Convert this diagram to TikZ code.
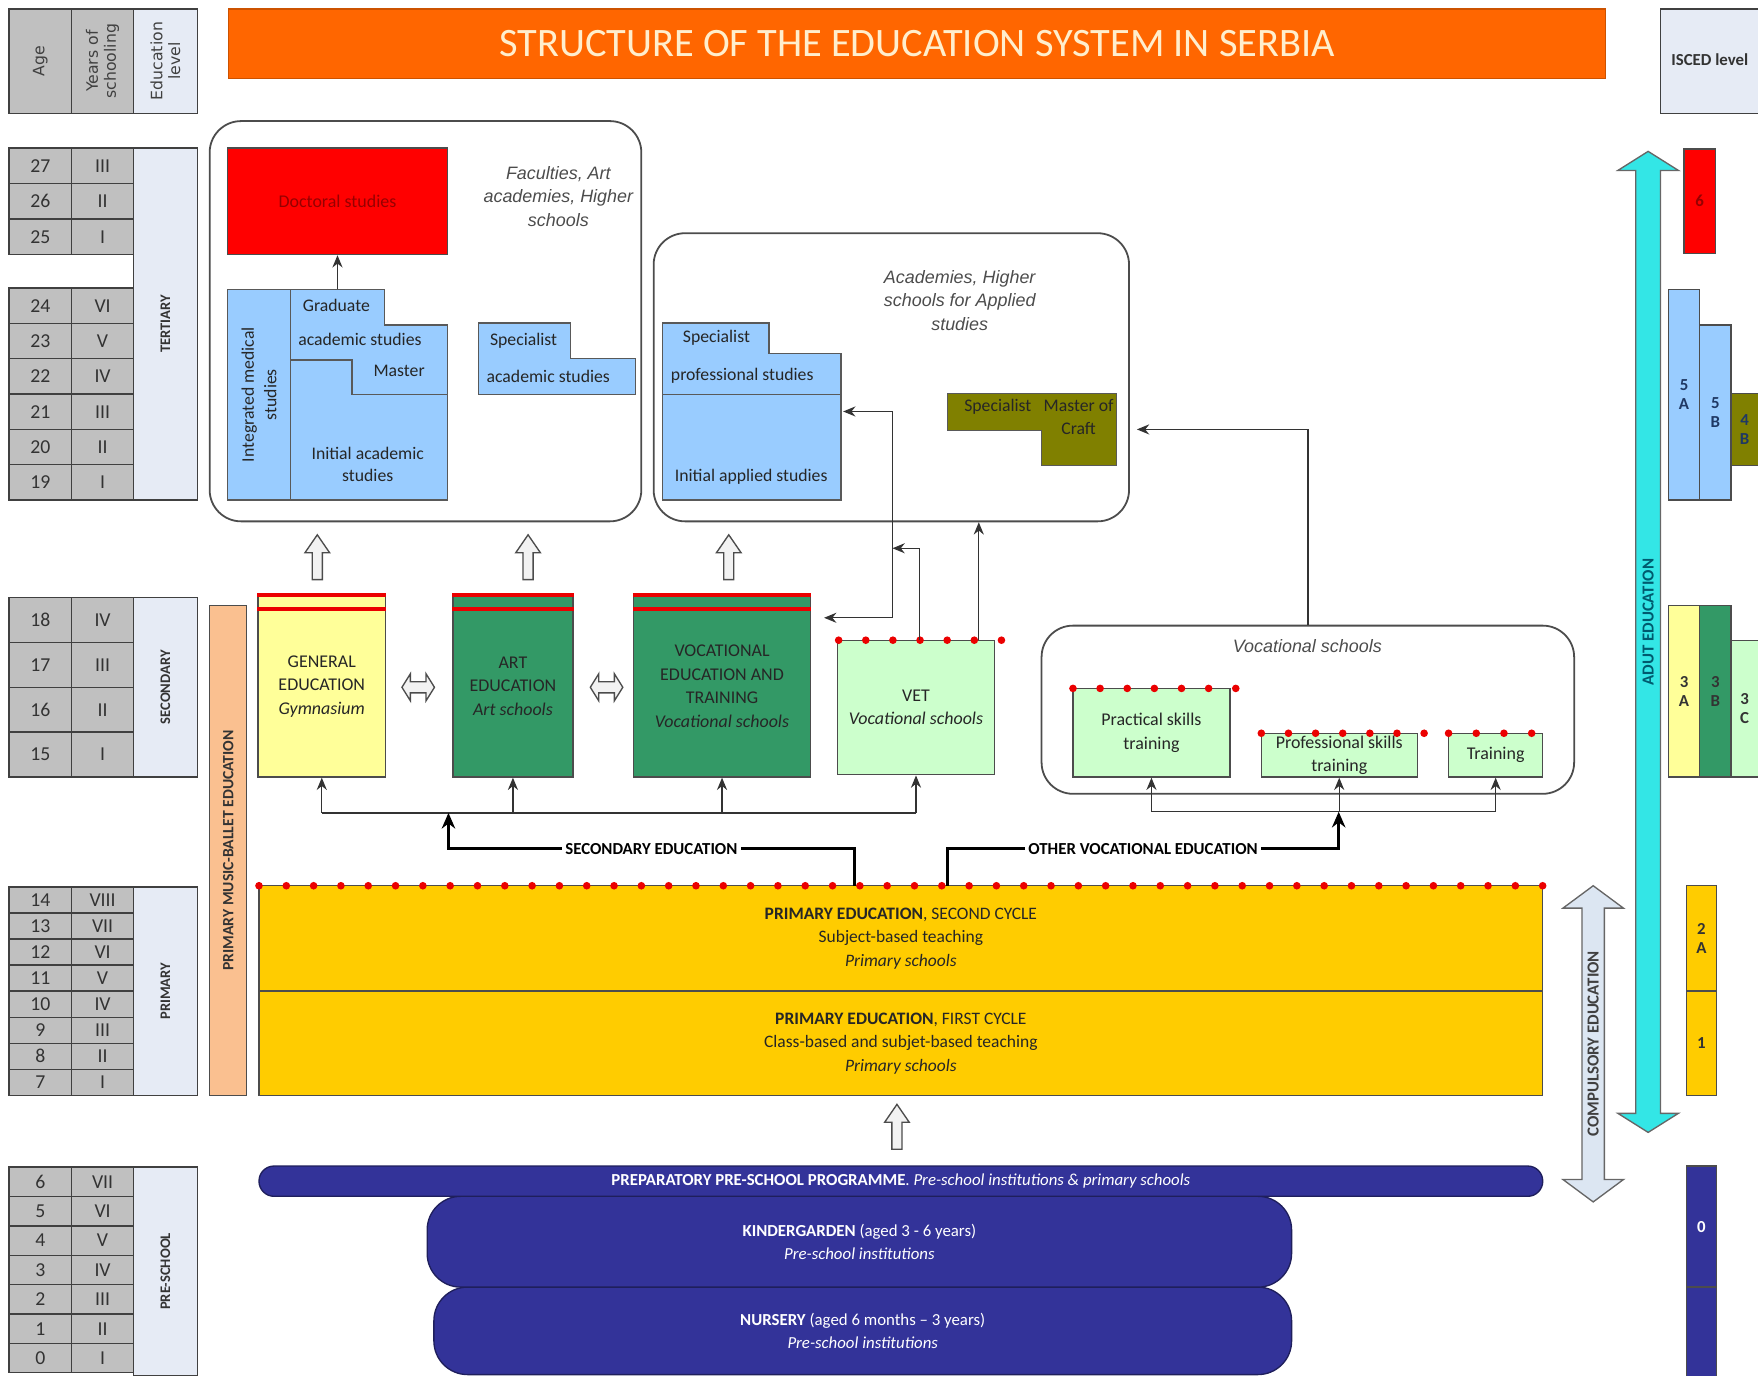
\documentclass[tikz,border=0pt]{standalone}
\usepackage{fontspec}
\setmainfont{Carlito}
\newfontfamily\arialfont{Liberation Sans}
\newfontfamily\verdfont{DejaVu Sans}
\usetikzlibrary{arrows.meta}
\definecolor{titleor}{RGB}{255,102,0}
\definecolor{titletxt}{RGB}{255,238,205}
\definecolor{cellgrey}{RGB}{192,192,192}
\definecolor{levelbg}{RGB}{230,235,245}
\definecolor{docred}{RGB}{255,0,0}
\definecolor{docdark}{RGB}{150,0,0}
\definecolor{uniblue}{RGB}{153,204,255}
\definecolor{craft}{RGB}{128,128,0}
\definecolor{genyel}{RGB}{255,255,153}
\definecolor{artgreen}{RGB}{51,153,102}
\definecolor{vetgreen}{RGB}{204,255,204}
\definecolor{primgold}{RGB}{255,204,0}
\definecolor{prenavy}{RGB}{51,51,153}
\definecolor{balletor}{RGB}{250,192,144}
\definecolor{adultcyan}{RGB}{51,230,230}
\definecolor{adultdark}{RGB}{0,90,110}
\definecolor{compbg}{RGB}{220,230,242}
\definecolor{dotred}{RGB}{235,0,0}
\definecolor{iscedblue}{RGB}{31,56,100}
\def\fsz#1#2{\fontsize{#1}{#2}\selectfont}

\begin{document}
\begin{tikzpicture}[x=0.5pt, y=-0.5pt, >={Stealth[width=4.5pt,length=5.5pt]},
	every node/.style={inner sep=0pt, align=center},
	spanbox/.style args={#1/#2/#3/#4}{at={({((#1)+(#3))/2},{((#2)+(#4))/2})}, minimum width={((#3)-(#1))*0.5pt}, minimum height={((#4)-(#2))*0.5pt}},
	cell/.style={draw=black!75, line width=0.6pt, fill=cellgrey, text=black!80, font=\fsz{8.8}{9.5}},
	levelcell/.style={draw=black!75, line width=0.6pt, fill=levelbg},
	leveltxt/.style={rotate=90, text=black!80, font=\bfseries\fsz{6.5}{7}},
	headtxt/.style={rotate=90, text=black!75, font=\verdfont\fsz{7}{8}},
	schbox/.style={draw=black!70, line width=0.6pt, text=black!85, font=\fsz{8}{10.5}},
	stair/.style={draw=black!65, line width=0.6pt, fill=uniblue},
	stairtxt/.style={text=black!85, font=\fsz{7.9}{10}},
	rbox/.style={draw=black!70, line width=0.8pt, rounded corners=14pt},
	instxt/.style={text=black!70, font=\arialfont\itshape\fsz{8}{10.5}},
	redbar/.style={draw=dotred, line width=1.8pt},
	link/.style={->, draw=black!80, line width=0.6pt},
	mainlink/.style={->, draw=black, line width=1.2pt, >={Stealth[width=6pt,length=7pt]}},
	linetxt/.style={fill=white, inner xsep=1.5pt, text=black, font=\bfseries\fsz{7.5}{9}},
	pill/.style={draw=prenavy!60!black, line width=0.6pt, fill=prenavy, text=white, font=\fsz{7.5}{10.5}},
	isced/.style={draw=black!70, line width=0.6pt, text=iscedblue, font=\bfseries\fsz{7.5}{8.5}},
	iscedlab/.style={text=iscedblue, font=\bfseries\fsz{7.5}{8.5}},
	hollowup/.pic={\draw[fill=black!5, draw=black!70, line width=0.6pt] (-4.5,20) -- (-4.5,-4) -- (-11,-4) -- (0,-20) -- (11,-4) -- (4.5,-4) -- (4.5,20) -- cycle;},
	hollowlr/.pic={\draw[fill=black!5, draw=black!70, line width=0.6pt] (-14.5,0) -- (-7,-12) -- (-7,-5) -- (7,-5) -- (7,-12) -- (14.5,0) -- (7,12) -- (7,5) -- (-7,5) -- (-7,12) -- cycle;}]
	\clip (0,0) rectangle (1568,1227);
	% header row
	\node[cell, spanbox=8/8/64/101] (hage) {};
	\node[cell, spanbox=64/8/119/101] (hyrs) {};
	\node[levelcell, spanbox=119/8/176/101] (hlev) {};
	\node[headtxt] (hagetxt) at (hage.center) {Age};
	\node[headtxt] (hyrstxt) at (hyrs.center) {Years of\\schooling};
	\node[headtxt] (hlevtxt) at (hlev.center) {Education\\level};
	\node[spanbox=204/8/1432/70, fill=titleor, draw=titleor!80!black, line width=0.6pt, text=titletxt, font=\fsz{18}{20}] (title) {STRUCTURE OF THE EDUCATION SYSTEM IN SERBIA};
	\node[levelcell, spanbox=1481/8/1580/101] (iscedhd) {};
	\node[text=black!80, font=\bfseries\fsz{7.5}{9}] (iscedtxt) at (1525,53) {ISCED level};
	% age table
	\foreach \a/\r [count=\i from 0] in {27/III,26/II,25/I}{
		\node[cell, spanbox=8/132+31.67*\i/64/163.67+31.67*\i] (age\a) {\a};
		\node[cell, spanbox=64/132+31.67*\i/119/163.67+31.67*\i] (yrs\a) {\r};
	}
	\foreach \a/\r [count=\i from 0] in {24/VI,23/V,22/IV,21/III,20/II,19/I}{
		\node[cell, spanbox=8/257+31.5*\i/64/288.5+31.5*\i] (age\a) {\a};
		\node[cell, spanbox=64/257+31.5*\i/119/288.5+31.5*\i] (yrs\a) {\r};
	}
	\foreach \a/\r [count=\i from 0] in {18/IV,17/III,16/II,15/I}{
		\node[cell, spanbox=8/533+40*\i/64/573+40*\i] (age\a) {\a};
		\node[cell, spanbox=64/533+40*\i/119/573+40*\i] (yrs\a) {\r};
	}
	\foreach \a/\r [count=\i from 0] in {14/VIII,13/VII,12/VI,11/V,10/IV,9/III,8/II,7/I}{
		\node[cell, spanbox=8/791+23.25*\i/64/814.25+23.25*\i] (age\a) {\a};
		\node[cell, spanbox=64/791+23.25*\i/119/814.25+23.25*\i] (yrs\a) {\r};
	}
	\foreach \a/\r [count=\i from 0] in {6/VII,5/VI,4/V,3/IV,2/III,1/II,0/I}{
		\node[cell, spanbox=8/1041+26.2*\i/64/1067.2+26.2*\i] (age\a) {\a};
		\node[cell, spanbox=64/1041+26.2*\i/119/1067.2+26.2*\i] (yrs\a) {\r};
	}
	\node[levelcell, spanbox=119/132/176/446] (tert) {};
	\node[levelcell, spanbox=119/533/176/693] (sec) {};
	\node[levelcell, spanbox=119/791/176/977] (prim) {};
	\node[levelcell, spanbox=119/1041/176/1227] (pre) {};
	\node[leveltxt] (terttxt) at (tert.center) {TERTIARY};
	\node[leveltxt] (sectxt) at (sec.center) {SECONDARY};
	\node[leveltxt] (primtxt) at (prim.center) {PRIMARY};
	\node[leveltxt] (pretxt) at (pre.center) {PRE-SCHOOL};
	\node[spanbox=187/540/220/977, draw=black!70, line width=0.6pt, fill=balletor] (ballet) {};
	\node[leveltxt, font=\bfseries\fsz{7}{8}] (ballettxt) at (ballet.center) {PRIMARY MUSIC-BALLET EDUCATION};
	% tertiary, academic
	\node[rbox, spanbox=187/108/572/465] (uni) {};
	\node[instxt] (unitxt) at (498,175) {Faculties, Art\\academies, Higher\\schools};
	\node[schbox, fill=docred, text=docdark, spanbox=203/132/399/227] (doc) {Doctoral studies};
	\draw[stair] (203,258) -- (343,258) -- (343,290) -- (399,290) -- (399,446) -- (203,446) -- cycle;
	\draw[stair] (259,258) -- (259,446) (259,321) -- (314,321) -- (314,352) -- (399,352);
	\node[stairtxt, rotate=90] (medtxt) at (231,352) {Integrated medical\\studies};
	\node[stairtxt] (gradtxt) at (300,272) {Graduate};
	\node[stairtxt] (acadtxt) at (321,303) {academic studies};
	\node[stairtxt] (mastxt) at (356,331) {Master};
	\node[stairtxt] (inittxt) at (328,414) {Initial academic\\studies};
	\coordinate (gradtop) at (301,258);
	\draw[link] (gradtop) -- (doc.south);
	\draw[stair] (427,288) -- (509,288) -- (509,320) -- (567,320) -- (567,352) -- (427,352) -- cycle;
	\node[stairtxt] (specatxt) at (467,304) {Specialist};
	\node[stairtxt] (specbtxt) at (489,336) {academic studies};
	% tertiary, applied
	\node[rbox, spanbox=583/208/1007/465] (appl) {};
	\node[instxt] (appltxt) at (856,268) {Academies, Higher\\schools for Applied\\studies};
	\draw[stair] (591,288) -- (686,288) -- (686,315) -- (750,315) -- (750,446) -- (591,446) -- cycle;
	\draw[stair] (591,352) -- (750,352);
	\node[stairtxt] (specptxt) at (639,301) {Specialist};
	\node[stairtxt] (proftxt) at (662,335) {professional studies};
	\node[stairtxt] (initatxt) at (670,425) {Initial applied studies};
	\draw[stair, fill=craft] (845,351) -- (996,351) -- (996,415) -- (929,415) -- (929,384) -- (845,384) -- cycle;
	\node[stairtxt] (specctxt) at (890,363) {Specialist};
	\node[stairtxt] (craftxt) at (962,372) {Master of\\Craft};
	\pic at (283,497) {hollowup};
	\pic at (471,497) {hollowup};
	\pic at (650,497) {hollowup};
	% secondary
	\node[schbox, fill=genyel, spanbox=230/531/344/693] (gen) {GENERAL\\EDUCATION\\\textit{Gymnasium}};
	\node[schbox, fill=artgreen, spanbox=404/531/511/693] (art) {ART\\EDUCATION\\\textit{Art schools}};
	\node[schbox, fill=artgreen, spanbox=565/531/723/693] (voc) {VOCATIONAL\\EDUCATION AND\\TRAINING\\\textit{Vocational schools}};
	\node[schbox, fill=vetgreen, spanbox=747/571/887/691] (vet) {VET\\\textit{Vocational schools}};
	\foreach \b in {gen,art,voc}{
		\draw[redbar] (\b.north west) -- (\b.north east);
		\draw[redbar] ([yshift=-6.5pt]\b.north west) -- ([yshift=-6.5pt]\b.north east);
	}
	\foreach \i in {0,...,6} \fill[dotred] ({748+24.2*\i},571) circle (1.7pt);
	\pic at (373,613) {hollowlr};
	\pic at (541,613) {hollowlr};
	\coordinate (sbusL) at (287,725);
	\coordinate (sbusR) at (817,725);
	\draw[link, -] (sbusL) -- (sbusR);
	\foreach \b in {gen,art,voc,vet} \draw[link] (\b.south |- sbusL) -- (\b.south);
	\coordinate (vetup) at (820,571);
	\coordinate (vsplit) at (796,489);
	\coordinate (applin) at (752,367);
	\coordinate (vocin) at (735,551);
	\coordinate (vettop) at (873,571);
	\draw[link] (vetup) |- (vsplit);
	\draw[link] (vsplit) |- (applin);
	\draw[link] (vsplit) |- (vocin);
	\draw[link] (vettop) -- (vettop |- appl.south);
	% other vocational
	\node[rbox, spanbox=929/558/1404/708] (vocsch) {};
	\node[instxt] (vocschtxt) at (1166,576) {Vocational schools};
	\node[schbox, fill=vetgreen, spanbox=957/614/1097/693] (prac) {Practical skills\\training};
	\node[schbox, fill=vetgreen, spanbox=1125/654/1264/693] (prof) {Professional skills\\training};
	\node[schbox, fill=vetgreen, spanbox=1292/654/1376/693] (train) {Training};
	\foreach \i in {0,...,6} \fill[dotred] ({957+24.2*\i},614) circle (1.7pt);
	\foreach \i in {0,...,6} \fill[dotred] ({1125+24.2*\i},654) circle (1.7pt);
	\foreach \i in {0,...,3} \fill[dotred] ({1292+24.7*\i},654) circle (1.7pt);
	\coordinate (vbusL) at (1027,724);
	\coordinate (vbusR) at (1334,724);
	\draw[link, -] (vbusL) -- (vbusR);
	\foreach \b in {prac,prof,train} \draw[link] (\b.south |- vbusL) -- (\b.south);
	\coordinate (craftin) at (1014,383);
	\draw[link] (vocsch.north) |- (craftin);
	% primary
	\node[schbox, fill=primgold, font=\fsz{7.8}{10.5}, spanbox=231/790/1376/884] (prim2) {\textbf{PRIMARY EDUCATION}, SECOND CYCLE\\Subject-based teaching\\\textit{Primary schools}};
	\node[schbox, fill=primgold, font=\fsz{7.8}{10.5}, spanbox=231/884/1376/977] (prim1) {\textbf{PRIMARY EDUCATION}, FIRST CYCLE\\Class-based and subjet-based teaching\\\textit{Primary schools}};
	\coordinate (secA) at (762,790);
	\coordinate (secB) at (400,757);
	\coordinate (secC) at (400,725);
	\draw[mainlink] (secA) |- node[linetxt, pos=0.75] (secedtxt) {SECONDARY EDUCATION} (secB) -- (secC);
	\coordinate (ovA) at (845,790);
	\coordinate (ovB) at (1194,757);
	\coordinate (ovC) at (1194,724);
	\draw[mainlink] (ovA) |- node[linetxt, pos=0.75] (ovtxt) {OTHER VOCATIONAL EDUCATION} (ovB) -- (ovC);
	\foreach \i in {0,...,47} \fill[dotred] ({231+24.36*\i},790) circle (1.7pt);
	\pic at (800,1005) {hollowup};
	% pre-school
	\node[pill, rounded corners=15pt, spanbox=387/1148/1152/1226] (nursery) {\textbf{NURSERY} (aged 6 months -- 3 years)\\\textit{Pre-school institutions}};
	\node[pill, rounded corners=15pt, spanbox=381/1067/1152/1148] (kinder) {\textbf{KINDERGARDEN} (aged 3 - 6 years)\\\textit{Pre-school institutions}};
	\node[pill, rounded corners=6.7pt, spanbox=231/1040/1376/1067] (prep) {\textbf{PREPARATORY PRE-SCHOOL PROGRAMME}. \textit{Pre-school institutions \& primary schools}};
	% side arrows
	\draw[fill=compbg, draw=black!60, line width=0.6pt] (1421,790) -- (1448,810) -- (1431,810) -- (1431,1052) -- (1448,1052) -- (1421,1072) -- (1394,1052) -- (1411,1052) -- (1411,810) -- (1394,810) -- cycle;
	\node[rotate=90, text=black!75, font=\bfseries\fsz{7.5}{9}] (comptxt) at (1421,931) {COMPULSORY EDUCATION};
	\draw[fill=adultcyan, draw=black!60, line width=0.6pt] (1470,135) -- (1497,152) -- (1481,152) -- (1481,993) -- (1497,993) -- (1470,1010) -- (1443,993) -- (1459,993) -- (1459,152) -- (1443,152) -- cycle;
	\node[rotate=90, text=adultdark, font=\bfseries\fsz{7.5}{9}] (adulttxt) at (1470,555) {ADUT EDUCATION};
	% isced levels
	\node[isced, fill=docred, text=docdark, spanbox=1502/133/1530/226] (i6) {6};
	\node[isced, fill=uniblue, spanbox=1488/258/1516/446] (i5a) {5\\A};
	\node[isced, fill=uniblue, spanbox=1516/290/1544/446] (i5b) {5\\B};
	\node[isced, fill=craft, spanbox=1544/351/1590/415] (i4b) {};
	\node[iscedlab] (i4btxt) at (1556,383) {4\\B};
	\node[isced, fill=genyel, text=black!80, spanbox=1488/540/1516/693] (i3a) {3\\A};
	\node[isced, fill=artgreen, text=black!80, spanbox=1516/540/1544/693] (i3b) {3\\B};
	\node[isced, fill=vetgreen, spanbox=1544/571/1590/693] (i3c) {};
	\node[iscedlab, text=black!80] (i3ctxt) at (1556,632) {3\\C};
	\node[isced, fill=primgold, text=black!80, spanbox=1504/790/1531/884] (i2a) {2\\A};
	\node[isced, fill=primgold, text=black!80, spanbox=1504/884/1531/977] (i1) {1};
	\node[isced, fill=prenavy, text=white, spanbox=1504/1040/1531/1148] (i0) {0};
	\node[isced, fill=prenavy, spanbox=1504/1148/1531/1240] (i0b) {};
\end{tikzpicture}
\end{document}
